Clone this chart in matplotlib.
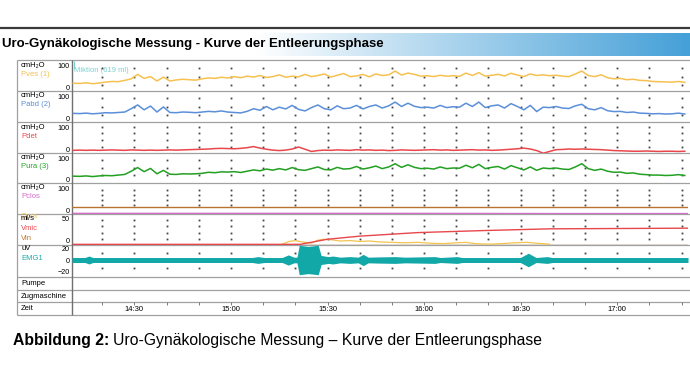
import numpy as np
import matplotlib
matplotlib.use('Agg')
import matplotlib.pyplot as plt
from matplotlib.colors import LinearSegmentedColormap

plt.rcParams['font.family'] = ['Liberation Sans', 'DejaVu Sans']

W, H = 690, 369

# time axis = minutes since midnight (14:10 .. 17:22)
t_start, t_end = 850.6, 1042.0
grid_t = [860, 870, 880, 890, 900, 910, 920, 930, 940, 950, 960, 970, 980, 990, 1000, 1010, 1020, 1030, 1040]
label_t = [870, 900, 930, 960, 990, 1020]
label_txt = ['14:30', '15:00', '15:30', '16:00', '16:30', '17:00']

# pressure channels, one sample every 2 min starting 14:11 [cmH2O]
t_pres = np.arange(851, 1042, 2)
pves = [20, 19, 22, 18, 21, 25, 28, 27, 33, 40, 60, 42, 50, 30, 48, 30, 35, 38, 36, 34,
        40, 44, 42, 47, 44, 50, 45, 52, 48, 55, 46, 50, 58, 47, 52, 49, 60, 50, 55, 62,
        48, 56, 64, 50, 53, 60, 49, 62, 55, 58, 75, 57, 66, 60, 52, 54, 50, 56, 52, 54,
        51, 66, 55, 68, 52, 56, 60, 53, 65, 57, 50, 62, 55, 58, 54, 56, 52, 50, 62, 75,
        55, 50, 58, 45, 40, 42, 36, 38, 33, 32, 28, 27, 26, 25, 28, 24]
pabd = [24, 23, 25, 22, 24, 27, 26, 28, 30, 45, 62, 40, 57, 30, 53, 28, 27, 30, 29, 27,
        30, 33, 31, 35, 30, 28, 26, 33, 45, 38, 55, 40, 52, 44, 60, 42, 35, 50, 62, 45,
        40, 58, 45, 48, 60, 44, 55, 62, 48, 58, 75, 55, 70, 56, 50, 52, 48, 60, 50, 54,
        52, 70, 55, 75, 50, 58, 62, 48, 68, 55, 40, 60, 32, 52, 50, 55, 48, 46, 58, 65,
        45, 40, 50, 36, 32, 33, 28, 30, 25, 24, 22, 23, 21, 22, 25, 21]
pdet = [-3, -2, -3, -2, -3, -2, -1, -2, -3, -1, -2, -3, -2, -3, -2, -1, -2, -1, 0, 1,
        2, 3, 5, 6, 5, 4, 6, 9, 14, 7, 2, -2, -4, -2, 3, 12, 2, -8, -4, -2,
        -3, -1, -2, -3, 0, -2, -1, -3, -2, -4, -3, -1, -2, -3, -2, -1, 0, -2, -1, -3,
        -2, -1, 0, -2, -1, -3, -2, 0, 2, 4, 7, 3, -4, -16, -8, 0, 1, 3, 2, 3,
        2, 1, 0, -2, -4, -5, -6, -7, -7, -6, -7, -8, -7, -7, -8, -7]
pura = [17, 16, 18, 15, 18, 20, 19, 22, 25, 40, 57, 38, 53, 28, 44, 26, 25, 28, 27, 28,
        30, 35, 33, 37, 36, 38, 34, 40, 46, 42, 50, 45, 52, 46, 57, 47, 44, 52, 60, 48,
        46, 58, 50, 52, 62, 50, 56, 64, 52, 60, 75, 58, 70, 58, 52, 54, 50, 60, 52, 55,
        54, 68, 56, 72, 52, 58, 62, 50, 66, 56, 46, 60, 44, 55, 52, 55, 50, 48, 60, 75,
        52, 44, 50, 40, 35, 36, 30, 32, 26, 24, 22, 22, 20, 21, 24, 20]

# closure pressure (nearly flat)
pclos_t = [851, 900, 950, 1000, 1042]
pclos = [-12, -12, -12, -13, -13]
pclos_ref = 17

# volume / flow channel
vmic_t = [851, 921.5, 930, 940, 958, 978, 999, 1042]
vmic = [-8.5, -8.5, 3, 10, 18, 22.5, 26.5, 28]
qura_t = [916, 918, 920, 922, 925, 927, 929, 931, 934, 937, 940, 943, 946, 950,
          954, 958, 962, 966, 970, 973, 976, 980, 984, 988, 992, 995, 999]
qura = [-8, -2, 0, -3, -6, 1, 3, 2, -1, 0, -2, -1, -3, -4,
        -5, -4, -6, -7, -5, -4, -7, -8, -7, -5, -4, -6, -8]
vin = -9

# EMG envelope amplitude [uV]
emg_t = [850.6, 854.6, 855.9, 857.1, 906.6, 908.4, 910.3, 915.9, 917.8, 919.6, 920.5,
         921.2, 924.0, 927.1, 928.0, 930.2, 931.7, 933.9, 937.0, 939.5, 941.1, 942.6,
         946.3, 951.0, 954.1, 963.4, 965.0, 970.3, 971.8, 989.9, 992.4, 994.8,
         998.3, 999.8, 1042.0]
emg_amp = [4.4, 4.4, 7, 4.4, 4.4, 6, 4.4, 4.4, 9, 5, 5,
           26, 24, 26, 8, 6, 7, 5, 6, 5, 10, 5,
           5.5, 6, 5, 6, 4.4, 6, 4.4, 4.4, 12, 4.4,
           6, 4.4, 4.4]

fig = plt.figure(figsize=(W / 100, H / 100), dpi=100)
bg = fig.add_axes([0, 0, 1, 1])
bg.set_xlim(0, W)
bg.set_ylim(H, 0)
bg.axis('off')

# title bar
cmap = LinearSegmentedColormap.from_list('bar', [(0, 'white'), (0.37, 'white'), (1, '#45a0d8')])
bg.imshow(np.linspace(0, 1, 256)[None, :], extent=(0, W, 56, 33), cmap=cmap, aspect='auto', zorder=0)
bg.hlines(28, 0, W, color='#3a3a3a', lw=1.6)
bg.text(2, 44.5, 'Uro-Gynäkologische Messung - Kurve der Entleerungsphase', fontsize=9.5, weight='bold',
        va='center', ha='left')

# table borders
rows = [60, 91, 122, 153, 183, 214, 245, 277, 290, 302, 315]
bg.hlines(rows, 17, W, color='#a0a0a0', lw=0.9)
bg.vlines(17, 60, 315, color='#a0a0a0', lw=0.9)
bg.vlines(72, 60, 315, color='#707070', lw=1.0)

# channel labels
lab = dict(fontsize=5.5, va='center', ha='left')
chan = [(60, 'cmH₂O', 'Pves (1)', '#f5c04a'),
        (91, 'cmH₂O', 'Pabd (2)', '#5a8ed6'),
        (122, 'cmH₂O', 'Pdet', '#e84a50'),
        (153, 'cmH₂O', 'Pura (3)', '#2aa02a'),
        (183, 'cmH₂O', 'Pclos', '#d46ccc')]
for top, unit, name, c in chan:
    bg.text(21, top + 5, unit, color='black', **lab)
    bg.text(21, top + 14, name, color=c, **lab)
bg.text(21, 216.5, 'Qura', color='#f2c850', **lab)
bg.text(21, 218.5, 'ml/s', color='black', **lab)
bg.text(21, 228, 'Vmic', color='#e84a50', **lab)
bg.text(21, 238, 'Vin', color='#c07a2c', **lab)
bg.text(21, 249, 'uV', color='black', **lab)
bg.text(21, 259, 'EMG1', color='#1aabab', **lab)
bg.text(21, 283.5, 'Pumpe', color='black', **lab)
bg.text(21, 296, 'Zugmaschine', color='black', **lab)
bg.text(21, 308.5, 'Zeit', color='black', **lab)


def panel(top, bot, ylim, yticks):
    ax = fig.add_axes([72 / W, 1 - bot / H, 616 / W, (bot - top) / H])
    ax.set_xlim(t_start, t_end)
    ax.set_ylim(*ylim)
    ax.patch.set_visible(False)
    for s in ax.spines.values():
        s.set_visible(False)
    ax.set_xticks([])
    ax.set_yticks(yticks)
    ax.tick_params(axis='y', length=0, pad=1.5, labelsize=5.2)
    return ax


def dots(ax, fr):
    xs = np.repeat(grid_t, len(fr))
    ys = np.tile(fr, len(grid_t))
    ax.plot(xs, ys, ls='none', marker='s', ms=1.3, color='#444444', mew=0,
            transform=ax.get_xaxis_transform())


ax1 = panel(60, 91, (-15, 125), [0, 100])
dots(ax1, [0.75, 0.46, 0.2])
ax1.plot(t_pres, pves, color='#f6c150', lw=1.1)

ax2 = panel(91, 122, (-15, 125), [0, 100])
dots(ax2, [0.76, 0.48, 0.22])
ax2.plot(t_pres, pabd, color='#5b8fd9', lw=1.1)

ax3 = panel(122, 153, (-15, 125), [0, 100])
dots(ax3, [0.84, 0.64, 0.42, 0.2])
ax3.plot(t_pres, pdet, color='#e8474c', lw=1.1)

ax4 = panel(153, 183, (-15, 125), [0, 100])
dots(ax4, [0.75, 0.5, 0.25])
ax4.plot(t_pres, pura, color='#22a022', lw=1.1)

ax5 = panel(183, 214, (-15, 125), [0, 100])
dots(ax5, [0.77, 0.61, 0.45, 0.29])
ax5.axhline(pclos_ref, color='#b8742e', lw=1.0)
ax5.plot(pclos_t, pclos, color='#d070c8', lw=1.0)

ax6 = panel(214, 245, (-10, 60), [0, 50])
dots(ax6, [0.81, 0.61, 0.39, 0.19])
ax6.axhline(vin, color='#7a5a30', lw=1.0)
ax6.plot(qura_t, qura, color='#f2c450', lw=0.9)
ax6.plot(vmic_t, vmic, color='#e8474c', lw=1.0)

ax7 = panel(245, 277, (-30, 26.5), [-20, 0, 20])
dots(ax7, [0.75, 0.28])
ax7.fill_between(emg_t, [-a for a in emg_amp], emg_amp, color='#12a8a8', lw=0)

# time row
ax8 = panel(302, 315, (0, 1), [])
ax8.vlines(grid_t, 0.75, 1, color='#666666', lw=0.6)
for t, s in zip(label_t, label_txt):
    ax8.text(t, 0.42, s, fontsize=5.5, ha='center', va='center')

# micturition marker
bg.vlines(73.5, 61, 69, color='#7fd0d0', lw=0.8)
bg.text(74.5, 71, 'Miktion (619 ml)', color='#7fd0d0', fontsize=5.5, va='center', ha='left')

# caption
c1 = bg.text(13, 341, 'Abbildung 2:', fontsize=11.3, weight='bold', va='center', ha='left')
fig.canvas.draw()
bb = c1.get_window_extent(renderer=fig.canvas.get_renderer())
bg.text(bb.x1 + 4, 341, 'Uro-Gynäkologische Messung – Kurve der Entleerungsphase', fontsize=11.3,
        va='center', ha='left')

fig.savefig('out.png', dpi=100)
